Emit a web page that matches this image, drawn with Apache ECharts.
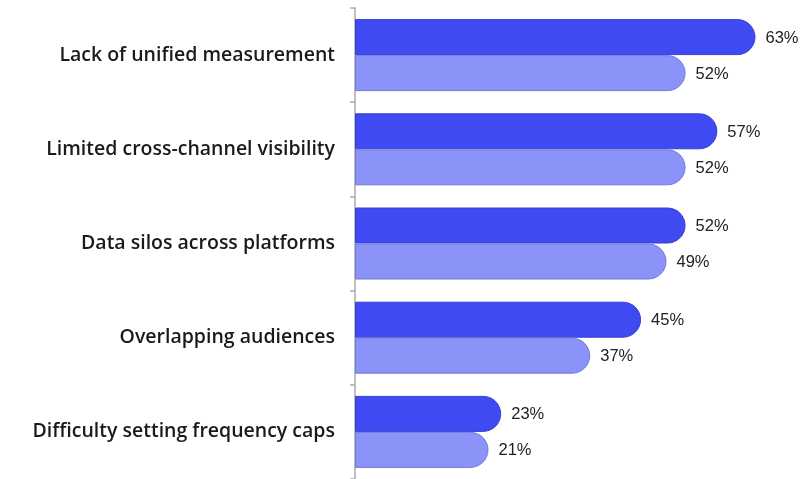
<!DOCTYPE html>
<html>
<head>
<meta charset="utf-8">
<script src="https://cdn.jsdelivr.net/npm/echarts@6/dist/echarts.min.js"></script>
<style>
  html, body { margin: 0; padding: 0; background: #ffffff; }
  #chart { width: 808px; height: 479px; }
</style>
</head>
<body>
<div id="chart"></div>
<script>
// Challenges reported, two survey groups per category
const categories = [
  'Lack of unified measurement',
  'Limited cross-channel visibility',
  'Data silos across platforms',
  'Overlapping audiences',
  'Difficulty setting frequency caps'
];
const seriesA = [63, 57, 52, 45, 23];
const seriesB = [52, 52, 49, 37, 21];

const chart = echarts.init(document.getElementById('chart'), null, { renderer: 'canvas' });

const valueLabel = {
  show: true,
  position: 'right',
  distance: 10,
  offset: [0, 1],
  formatter: '{c}%',
  color: '#222222',
  fontFamily: 'Liberation Sans, Arial, sans-serif',
  fontSize: 16.5
};

chart.setOption({
  animation: false,
  grid: { left: 355, top: 8, right: 8, height: 472, containLabel: false },
  xAxis: {
    type: 'value',
    min: 0,
    max: 70,
    show: false
  },
  yAxis: {
    type: 'category',
    data: categories,
    inverse: true,
    axisLine: { show: true, lineStyle: { color: '#aaaaaa', width: 1.5 } },
    axisTick: { show: true, length: 5, lineStyle: { color: '#aaaaaa', width: 1.5 } },
    axisLabel: {
      margin: 20,
      color: '#1a1a1a',
      fontFamily: '"Open Sans", sans-serif',
      fontWeight: 600,
      fontSize: 19.5,
      lineHeight: 30,
      verticalAlign: 'middle',
      padding: [4, 0, 0, 0]
    }
  },
  series: [
    {
      type: 'bar',
      data: seriesA,
      barWidth: 36,
      barGap: '0%',
      itemStyle: {
        color: '#3f4af2',
        borderColor: '#3540d0',
        borderWidth: 1,
        borderRadius: [0, 18, 18, 0]
      },
      label: valueLabel
    },
    {
      type: 'bar',
      data: seriesB,
      barWidth: 36,
      itemStyle: {
        color: '#8c93f8',
        borderColor: '#7279dc',
        borderWidth: 1,
        borderRadius: [0, 18, 18, 0]
      },
      label: valueLabel
    }
  ]
});
</script>
</body>
</html>
